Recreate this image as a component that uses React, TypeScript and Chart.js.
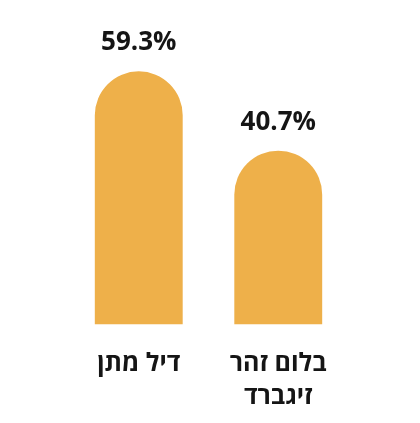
import React, { useEffect, useRef } from "react";
import { Chart, registerables } from "chart.js";

Chart.register(...registerables);

const categories: (string | string[])[] = ["דיל מתן", ["בלום זהר", "זיגברד"]];
const values: number[] = [59.3, 40.7];
const valueLabels: string[] = ["59.3%", "40.7%"];

const BAR_COLOR = "#EEB04A";
const TEXT_COLOR = "#151515";
const FONT = "'Open Sans', 'DejaVu Sans', sans-serif";

const valueLabelPlugin = {
  id: "valueLabels",
  afterDatasetsDraw(chart: any) {
    const { ctx } = chart;
    const meta = chart.getDatasetMeta(0);
    ctx.save();
    ctx.font = `bold 26px ${FONT}`;
    ctx.fillStyle = TEXT_COLOR;
    ctx.textAlign = "center";
    ctx.textBaseline = "alphabetic";
    meta.data.forEach((el: any, i: number) => {
      ctx.fillText(valueLabels[i], el.x, el.y - 21);
    });
    ctx.restore();
  },
};

export default function App() {
  const ref = useRef<HTMLCanvasElement>(null);
  useEffect(() => {
    if (!ref.current) return;
    const chart = new Chart(ref.current, {
      type: "bar",
      data: {
        labels: categories,
        datasets: [
          {
            data: values,
            backgroundColor: BAR_COLOR,
            borderWidth: 0,
            borderRadius: 100,
            borderSkipped: "bottom",
            barPercentage: 0.63,
            categoryPercentage: 1,
          },
        ],
      },
      options: {
        responsive: false,
        animation: false,
        layout: { padding: { top: 0, left: 69, right: 72, bottom: -13 } },
        plugins: {
          legend: { display: false },
          tooltip: { enabled: false },
        },
        scales: {
          y: { display: false, min: 0, max: 76 },
          x: {
            grid: { display: false, drawTicks: false },
            border: { display: false },
            ticks: {
              color: TEXT_COLOR,
              padding: 22,
              maxRotation: 0,
              autoSkip: false,
              font: { family: FONT, size: 25, weight: "bold", lineHeight: 1.35 },
            },
          },
        },
      },
      plugins: [valueLabelPlugin],
    });
    return () => chart.destroy();
  }, []);
  return (
    <div style={{ position: "fixed", left: 0, top: 0, width: 420, height: 423, background: "#fff" }}>
      <canvas ref={ref} width={420} height={423} style={{ width: 420, height: 423, display: "block" }} />
    </div>
  );
}
